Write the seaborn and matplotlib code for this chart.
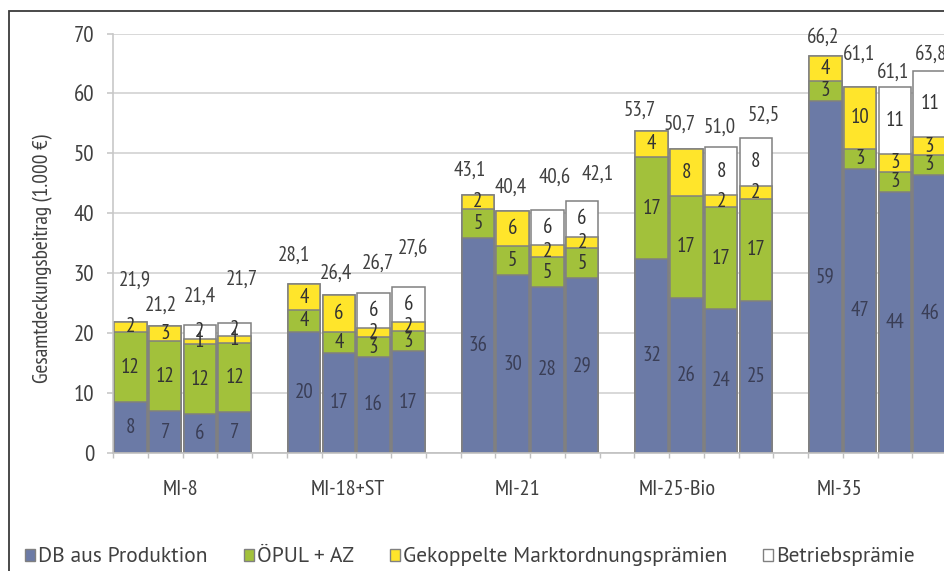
import numpy as np
import pandas as pd
import matplotlib
matplotlib.use('Agg')
import matplotlib.pyplot as plt
from matplotlib.patches import Patch, Rectangle
import seaborn as sns

# --- Daten (1.000 €), je Betrieb vier Varianten ---
groups = ['MI-8', 'MI-18+ST', 'MI-21', 'MI-25-Bio', 'MI-35']
db_produktion = [8.4, 6.9, 6.4, 6.8, 20.2, 16.6, 16.0, 16.9, 35.8, 29.6, 27.7, 29.1,
                 32.3, 25.8, 24.0, 25.3, 58.7, 47.4, 43.6, 46.4]
oepul_az = [11.7, 11.7, 11.7, 11.6, 3.6, 3.5, 3.3, 3.4, 4.9, 4.9, 4.9, 5.0,
            17.1, 17.1, 17.0, 17.1, 3.4, 3.3, 3.3, 3.3]
gekoppelt = [1.8, 2.6, 0.9, 1.1, 4.3, 6.3, 1.6, 1.6, 2.4, 5.9, 2.0, 2.0,
             4.3, 7.8, 2.0, 2.2, 4.1, 10.4, 3.0, 3.0]
betriebspraemie = [0, 0, 2.4, 2.2, 0, 0, 5.8, 5.7, 0, 0, 6.0, 6.0,
                   0, 0, 8.0, 7.9, 0, 0, 11.2, 11.1]
legend_labels = ['DB aus Produktion', 'ÖPUL + AZ', 'Gekoppelte Marktordnungsprämien', 'Betriebsprämie']

# --- Layout: Lage der Summen-Beschriftungen (wie im Original verschoben) ---
sum_dx = [0.14, -0.12, 0.0, 0.2, -0.29, -0.09, 0.12, 0.14, -0.23, -0.06, 0.2, 0.46,
          -0.35, -0.2, -0.03, 0.23, -0.06, -0.03, -0.06, 0.03]
sum_dy = [6.9, 3.5, 4.8, 7.3, 4.9, 3.6, 5.0, 6.6, 4.1, 4.0, 5.4, 4.4,
          3.5, 4.2, 3.4, 3.9, 3.2, 5.5, 2.5, 2.8]
group_label_pos = [1.93, 6.76, 11.63, 16.23, 20.92]

farben = ['#6b7aa6', '#a2c13b', '#ffe52b', '#ffffff']
kante = '#808080'
textfarbe = '#404040'

# --- Daten aufbereiten ---
slot = [g * 5 + j + 0.5 for g in range(len(groups)) for j in range(4)]
df = pd.DataFrame({
    'gruppe': np.repeat(groups, 4),
    'slot': slot,
    'db': db_produktion,
    'oepul': oepul_az,
    'gek': gekoppelt,
    'bp': betriebspraemie,
})
df['stufe1'] = df['db']
df['stufe2'] = df['stufe1'] + df['oepul']
df['stufe3'] = df['stufe2'] + df['gek']
df['summe'] = df['stufe3'] + df['bp']

sns.set_theme(style='white')
plt.rcParams['font.family'] = ['PT Sans Narrow', 'DejaVu Sans']

fig = plt.figure(figsize=(9.45, 5.71), dpi=100)
ax = fig.add_axes([113 / 945, 1 - 452.7 / 571, 834 / 945, 419.2 / 571])

# gestapelte Balken: von der Summe nach unten überlagern
for spalte, farbe in zip(['summe', 'stufe3', 'stufe2', 'stufe1'], farben[::-1]):
    sns.barplot(data=df, x='slot', y=spalte, native_scale=True, width=0.94,
                color=farbe, saturation=1, edgecolor=kante, linewidth=1.1,
                errorbar=None, ax=ax)

# Segment-Beschriftungen
for _, row in df.iterrows():
    unten = 0
    for spalte, tf in [('db', '#3a3e56'), ('oepul', '#333333'), ('gek', '#333333'), ('bp', '#333333')]:
        v = row[spalte]
        if v > 0:
            ax.text(row['slot'], unten + v / 2, f"{int(np.floor(v + 0.5))}",
                    ha='center', va='center', fontsize=15, color=tf)
        unten += v

# Summen
for i, row in df.iterrows():
    ax.text(row['slot'] + sum_dx[i], row['summe'] + sum_dy[i],
            f"{row['summe']:.1f}".replace('.', ','),
            ha='center', va='center', fontsize=15, color=textfarbe)

ax.set_xlim(0, 24)
ax.set_ylim(0, 70)
ax.set_yticks(range(0, 71, 10))
ax.yaxis.grid(True, color='#d2d2d2', lw=1.2)
ax.set_axisbelow(True)
for s in ['top', 'right']:
    ax.spines[s].set_visible(False)
ax.spines['left'].set_color('#c8c8c8')
ax.spines['bottom'].set_color('#c0c0c0')
ax.spines['left'].set_linewidth(1.2)
ax.spines['bottom'].set_linewidth(1.2)

ax.set_xticks(group_label_pos, groups)
ax.set_xticks(np.arange(0, 25), minor=True)
ax.tick_params(axis='x', which='major', length=0, pad=20, labelsize=16, labelcolor=textfarbe)
ax.tick_params(axis='x', which='minor', bottom=True, length=3.5, width=1, color='#c0c0c0')
ax.tick_params(axis='y', left=True, length=4.5, width=1.2, color='#c8c8c8', pad=9,
               labelsize=16.5, labelcolor=textfarbe)

ax.set_xlabel('')
ax.set_ylabel('Gesamtdeckungsbeitrag (1.000 €)', fontsize=15.5, color=textfarbe)
ax.yaxis.set_label_coords(-0.084, 0.464)
ax.yaxis.label.set_va('center')

handles = [Patch(facecolor=c, edgecolor=kante, lw=1) for c in farben]
fig.legend(handles, legend_labels, loc='center left', bbox_to_anchor=(25 / 945, 1 - 557 / 571),
           ncol=4, frameon=False, prop={'family': ['PT Sans', 'DejaVu Sans'], 'size': 15.5},
           handlelength=0.47, handleheight=0.47, handletextpad=0.14, columnspacing=1.67,
           borderpad=0, borderaxespad=0, labelcolor=textfarbe)

# Rahmen (rechts und unten abgeschnitten)
fig.add_artist(Rectangle((9.5 / 945, -0.05), 1.0, 1 - 11 / 571 + 0.05,
                         transform=fig.transFigure, fill=False, edgecolor='#3a3a3a', lw=1.3))

fig.savefig('out.png', dpi=100)
